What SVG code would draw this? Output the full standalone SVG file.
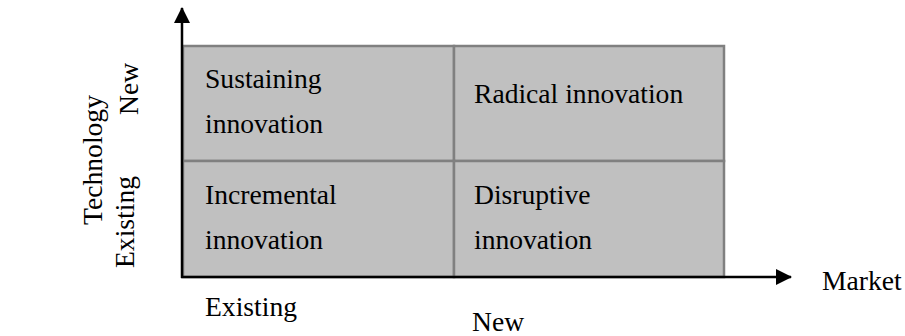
<svg xmlns="http://www.w3.org/2000/svg" width="905" height="336" viewBox="0 0 905 336">
<style>
text{font-family:"Liberation Serif","Times New Roman",serif;font-size:27.6px;fill:#000}
.cell{fill:#c0c0c0;stroke:#808080;stroke-width:2.5}
.axis{stroke:#000;stroke-width:2.5;fill:none}
</style>
<defs>
<marker id="ah" markerWidth="16" markerHeight="16" viewBox="0 0 16 16" refX="15" refY="8" orient="auto" markerUnits="userSpaceOnUse">
<path d="M0,0 L16,8 L0,16 Z" fill="#000"/>
</marker>
</defs>
<g id="cell-sustaining"><rect class="cell" x="183" y="46" width="271" height="115"/><text x="205" y="88">Sustaining</text><text x="205" y="133">innovation</text></g>
<g id="cell-radical"><rect class="cell" x="454" y="46" width="270" height="115"/><text x="474" y="103">Radical innovation</text></g>
<g id="cell-incremental"><rect class="cell" x="183" y="161" width="271" height="116"/><text x="205" y="204">Incremental</text><text x="205" y="249">innovation</text></g>
<g id="cell-disruptive"><rect class="cell" x="454" y="161" width="270" height="116"/><text x="474" y="204">Disruptive</text><text x="474" y="249">innovation</text></g>
<g id="connectors">
<line class="axis" x1="182" y1="278" x2="182" y2="8" marker-end="url(#ah)"/>
<line class="axis" x1="181" y1="277" x2="791" y2="277" marker-end="url(#ah)"/>
</g>
<g id="labels">
<text x="822" y="290">Market</text>
<text x="205" y="316">Existing</text>
<text x="472" y="331">New</text>
<text transform="translate(102,160) rotate(-90)" text-anchor="middle">Technology</text>
<text transform="translate(138,89) rotate(-90)" text-anchor="middle">New</text>
<text transform="translate(134,222) rotate(-90)" text-anchor="middle">Existing</text>
</g>
</svg>
